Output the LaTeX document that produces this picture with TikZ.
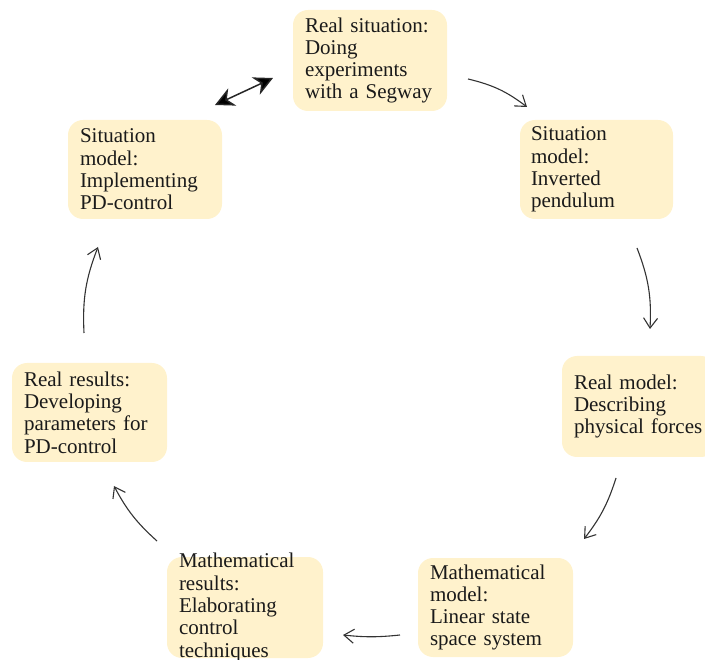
\documentclass[tikz,border=0pt]{standalone}
\usepackage{fontspec}
\setmainfont{Liberation Serif}
\usetikzlibrary{arrows.meta}
\definecolor{boxfill}{HTML}{FFF2CC}
\definecolor{txt}{HTML}{1A1A1A}
\definecolor{arr}{HTML}{333333}
\tikzset{
  stagebox/.style={draw=none, fill=boxfill, rounded corners=15pt, inner sep=0pt},
  stagetext/.style={inner xsep=12pt, inner ysep=0pt, align=left, text=txt,
    font=\fontsize{21}{22.3}\selectfont},
  cyc/.style={draw=arr, line width=1.1pt, -{Straight Barb[length=10pt,width=14pt,line width=1.1pt]}},
  dbl/.style={draw=black!85, line width=1.5pt, {Stealth[length=19pt,width=19pt,inset=6pt,fill=black]}-{Stealth[length=19pt,width=19pt,inset=6pt,fill=black]}}
}
\begin{document}
\begin{tikzpicture}[x=1pt,y=-1pt]
\useasboundingbox (0,0) rectangle (705,660);
% boxes
\node[stagebox, minimum width=154pt, minimum height=101pt] (b1) at (370,60.5) {};
\node[stagebox, minimum width=153pt, minimum height=99pt] (b2) at (596.5,169.5) {};
\node[stagebox, minimum width=154pt, minimum height=101pt] (b3) at (639,406.5) {};
\node[stagebox, minimum width=155pt, minimum height=99pt] (b4) at (495.5,607.5) {};
\node[stagebox, minimum width=156pt, minimum height=101pt] (b5) at (245,607.5) {};
\node[stagebox, minimum width=155pt, minimum height=99pt] (b6) at (89.5,412.5) {};
\node[stagebox, minimum width=154pt, minimum height=99pt] (b7) at (145,169.5) {};
% texts
\node[stagetext, text width=130pt] (t1) at (b1) {Real situation:\\Doing\\experiments\\with a Segway};
\node[stagetext, text width=131pt] (t2) at (b2) {Situation\\model:\\Inverted\\pendulum};
\node[stagetext, text width=130pt] (t3) at (b3) {Real model:\\Describing\\physical forces};
\node[stagetext, text width=131pt] (t4) at (b4) {Mathematical\\model:\\Linear state\\space system};
\node[stagetext, text width=132pt] (t5) at (b5) {Mathematical\\results:\\Elaborating\\control\\techniques};
\node[stagetext, text width=131pt] (t6) at (b6) {Real results:\\Developing\\parameters for\\PD-control};
\node[stagetext, text width=130pt] (t7) at (b7) {Situation\\model:\\Implementing\\PD-control};
% connector ends
\coordinate (d1) at (215,105);
\coordinate (d2) at (273,78);
\coordinate (a1s) at (468,79);
\coordinate (a1e) at (527,107);
\coordinate (a2s) at (637,248);
\coordinate (a2e) at (650,329);
\coordinate (a3s) at (616,478);
\coordinate (a3e) at (584,539);
\coordinate (a4s) at (400,635);
\coordinate (a4e) at (343,635);
\coordinate (a5s) at (157,541);
\coordinate (a5e) at (114,486);
\coordinate (a6s) at (84,333);
\coordinate (a6e) at (98,247);
% connectors
\draw[dbl] (d1) -- (d2);
\draw[cyc] (a1s) to[bend left=12] (a1e);
\draw[cyc] (a2s) to[bend left=12] (a2e);
\draw[cyc] (a3s) to[bend left=10] (a3e);
\draw[cyc] (a4s) to[bend left=6] (a4e);
\draw[cyc] (a5s) to[bend left=10] (a5e);
\draw[cyc] (a6s) to[bend left=12] (a6e);
\end{tikzpicture}
\end{document}
